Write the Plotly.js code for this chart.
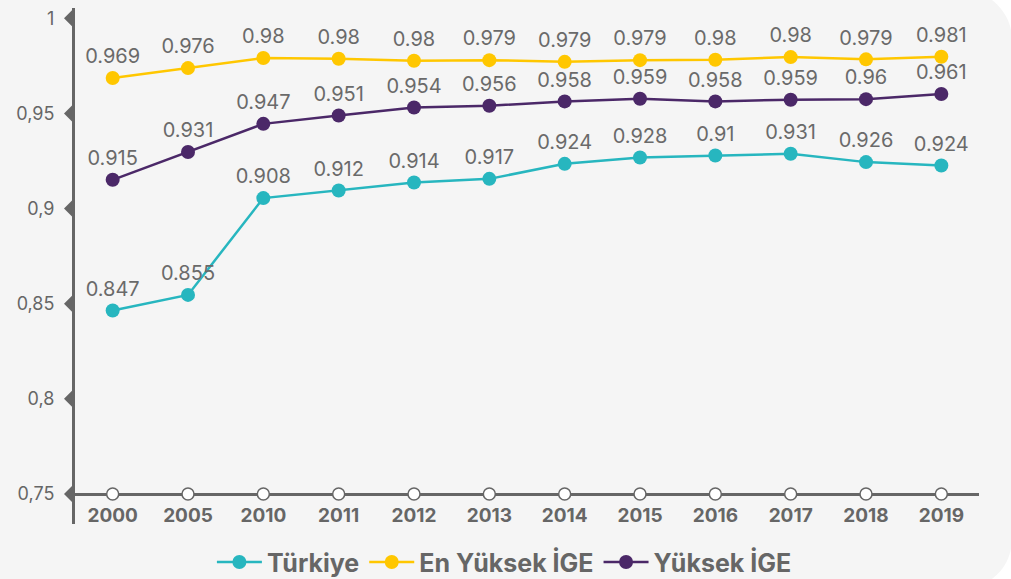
<!DOCTYPE html>
<html>
<head>
<meta charset="utf-8">
<script src="https://cdn.plot.ly/plotly-3.0.1.min.js"></script>
<style>
  html, body { margin: 0; padding: 0; background: #ffffff; width: 1011px; height: 579px; overflow: hidden; }
  #card { position: absolute; left: -50px; top: -10px; width: 1062px; height: 599px; background: #f5f5f5; border-radius: 50px; }
  #chart { position: absolute; left: 0; top: 0; width: 1011px; height: 579px; }
</style>
</head>
<body>
<div id="card"></div>
<div id="chart"></div>
<script>
// ---- data ----
const years = ['2000','2005','2010','2011','2012','2013','2014','2015','2016','2017','2018','2019'];

const turkiyeValues = [0.8464, 0.8546, 0.9055, 0.9095, 0.9137, 0.9156, 0.9235, 0.9268, 0.9279, 0.9288, 0.9244, 0.9226];
const turkiyeLabels = ['0.847','0.855','0.908','0.912','0.914','0.917','0.924','0.928','0.91','0.931','0.926','0.924'];

const enYuksekValues = [0.9686, 0.9738, 0.9791, 0.9787, 0.9777, 0.9780, 0.9771, 0.9780, 0.9782, 0.9796, 0.9784, 0.9798];
const enYuksekLabels = ['0.969','0.976','0.98','0.98','0.98','0.979','0.979','0.979','0.98','0.98','0.979','0.981'];

const yuksekValues = [0.9151, 0.9297, 0.9445, 0.9489, 0.9531, 0.9540, 0.9563, 0.9577, 0.9563, 0.9572, 0.9575, 0.9602];
const yuksekLabels = ['0.915','0.931','0.947','0.951','0.954','0.956','0.958','0.959','0.958','0.959','0.96','0.961'];

const seriesNames = ['Türkiye', 'En Yüksek İGE', 'Yüksek İGE'];
const yTicks = [0.75, 0.8, 0.85, 0.9, 0.95, 1];
const yBase = 0.75;

// ---- styling ----
const GRAY = '#666666';
const FONT = 'Inter, "Open Sans", sans-serif';
const colors = ['#27b6bf', '#ffc700', '#4b2868'];

const xIdx = years.map((_, i) => i);

function series(name, values, labels, color) {
  return {
    type: 'scatter', mode: 'lines+markers+text', name: name,
    x: xIdx, y: values, text: labels,
    textposition: 'top center',
    textfont: { family: FONT, size: 20, color: '#6a6a6a' },
    line: { color: color, width: 2.5 },
    marker: { color: color, size: 14 },
    cliponaxis: false, hoverinfo: 'skip'
  };
}

const traces = [
  series(seriesNames[0], turkiyeValues, turkiyeLabels, colors[0]),
  series(seriesNames[1], enYuksekValues, enYuksekLabels, colors[1]),
  series(seriesNames[2], yuksekValues, yuksekLabels, colors[2]),
  // white circles on the baseline axis
  {
    type: 'scatter', mode: 'markers', showlegend: false, hoverinfo: 'skip',
    x: xIdx, y: years.map(() => yBase),
    marker: { color: '#ffffff', size: 12, line: { color: GRAY, width: 1.5 } },
    cliponaxis: false
  }
];

// triangle tick markers pointing left from the y axis line
const tickShapes = yTicks.map(v => ({
  type: 'path', xref: 'paper', yref: 'y',
  xsizemode: 'pixel', ysizemode: 'pixel',
  xanchor: 0, yanchor: v,
  path: 'M -11 0 L -2 -9 L -2 9 Z',
  fillcolor: GRAY, line: { width: 0 }, layer: 'above'
}));

const layout = {
  width: 1011, height: 579,
  margin: { l: 75, r: 32, t: 8, b: 55, autoexpand: false },
  paper_bgcolor: 'rgba(0,0,0,0)',
  plot_bgcolor: 'rgba(0,0,0,0)',
  separators: ',.',
  font: { family: FONT, color: GRAY },
  showlegend: true,
  legend: {
    orientation: 'h', x: 0.475, xanchor: 'center', y: -0.074, yanchor: 'middle',
    font: { family: FONT, size: 25, color: GRAY, weight: 700 },
    itemwidth: 45,
    bgcolor: 'rgba(0,0,0,0)', itemclick: false, itemdoubleclick: false
  },
  shapes: tickShapes,
  xaxis: {
    type: 'linear', range: [-0.5, 11.5],
    tickmode: 'array', tickvals: xIdx, ticktext: years,
    showgrid: false, zeroline: false,
    showline: true, linecolor: GRAY, linewidth: 3,
    anchor: 'free', position: 30 / 516,
    ticks: '', ticklabelstandoff: 3,
    tickfont: { family: FONT, size: 19, color: GRAY, weight: 700 },
    layer: 'below traces',
    fixedrange: true
  },
  yaxis: {
    range: [0.7342, 1.0054],
    tickmode: 'array', tickvals: yTicks,
    showgrid: false, zeroline: false,
    showline: true, linecolor: GRAY, linewidth: 3,
    ticks: '', ticklabelstandoff: 14,
    tickfont: { family: FONT, size: 18, color: GRAY },
    layer: 'below traces',
    fixedrange: true
  }
};

Plotly.newPlot('chart', traces, layout, { displayModeBar: false, staticPlot: true });
</script>
</body>
</html>
